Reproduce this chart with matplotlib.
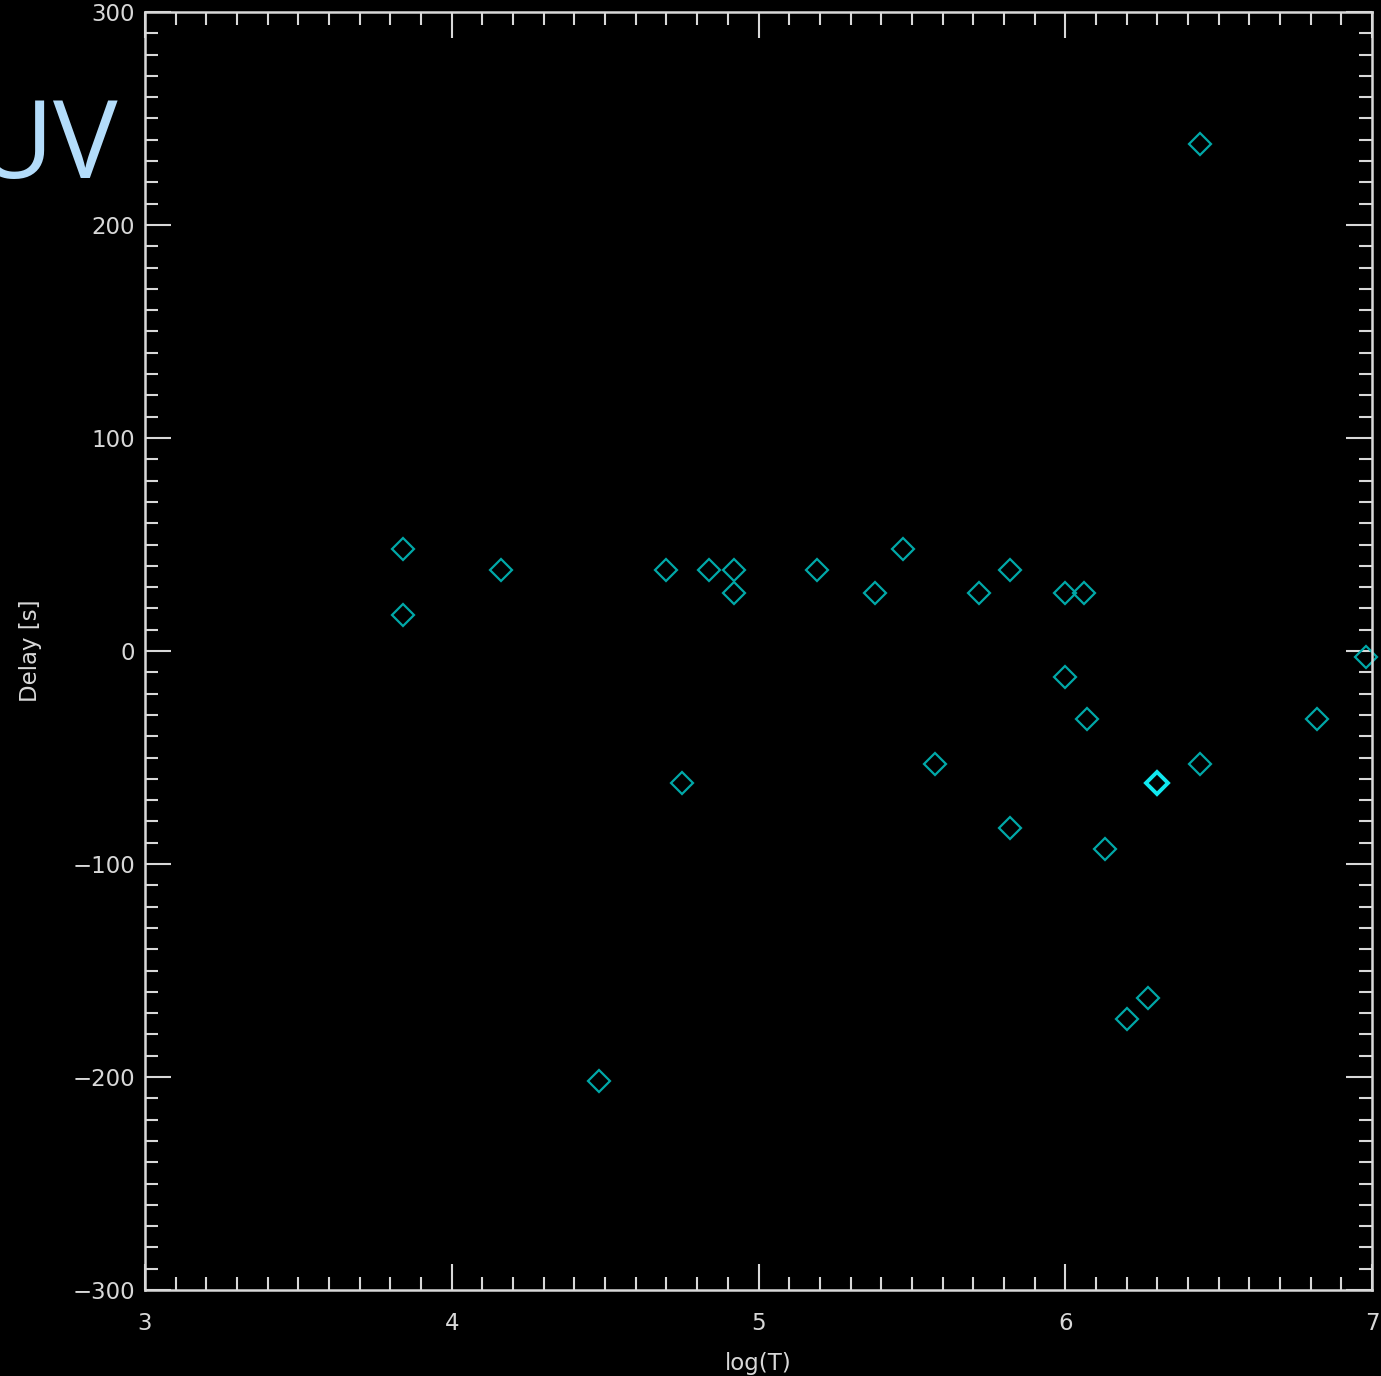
import matplotlib
matplotlib.use("Agg")
import matplotlib.pyplot as plt
from matplotlib.ticker import MultipleLocator

# values
log_t = [3.84, 3.84, 4.16, 4.48, 4.70, 4.75, 4.84, 4.92, 4.92, 5.19,
         5.38, 5.47, 5.575, 5.72, 5.82, 5.82, 6.00, 6.06, 6.00, 6.07,
         6.13, 6.44, 6.44, 6.20, 6.27, 6.82, 6.98]
delay = [48, 17, 38, -202, 38, -62, 38, 38, 27, 38,
         27, 48, -53, 27, 38, -83, 27, 27, -12, -32,
         -93, 238, -53, -173, -163, -32, -3]
# one highlighted point
hi_t = [6.30]
hi_delay = [-62]

x_ticks = [3, 4, 5, 6, 7]
y_ticks = [-300, -200, -100, 0, 100, 200, 300]

fg = '#d8d8d8'
plt.rcParams['font.family'] = 'DejaVu Sans'

fig = plt.figure(figsize=(13.81, 13.76), dpi=100, facecolor='black')
ax = fig.add_axes([145 / 1381, 1 - 1290 / 1376, (1372 - 145) / 1381, (1290 - 12) / 1376])
ax.set_facecolor('black')

ax.plot(log_t, delay, linestyle='none', marker='D', markersize=11.5,
        markerfacecolor='none', markeredgecolor='#00a8a8', markeredgewidth=1.6,
        clip_on=False)
ax.plot(hi_t, hi_delay, linestyle='none', marker='D', markersize=11.5,
        markerfacecolor='none', markeredgecolor='#10e8f0', markeredgewidth=2.8)

ax.set_xlim(3, 7)
ax.set_ylim(-300, 300)
ax.set_xticks(x_ticks)
ax.set_yticks(y_ticks)
ax.set_xticklabels([str(v) for v in x_ticks])
ax.set_yticklabels([str(v).replace('-', '\u2212') for v in y_ticks])
ax.xaxis.set_minor_locator(MultipleLocator(0.1))
ax.yaxis.set_minor_locator(MultipleLocator(10))

for s in ax.spines.values():
    s.set_color(fg)
    s.set_linewidth(1.8)

ax.tick_params(which='both', direction='in', colors=fg, top=True, right=True,
               width=1.5, labelsize=16.5)
ax.tick_params(which='major', length=19)
ax.tick_params(which='minor', length=9.5)
ax.tick_params(axis='x', which='major', pad=16)
ax.tick_params(axis='y', which='major', pad=7)

ax.set_xlabel('log(T)', color=fg, fontsize=16.5, labelpad=12)
ax.set_ylabel('Delay [s]', color=fg, fontsize=16.5, labelpad=22)

fig.text(118 / 1381, 1 - 150 / 1376, 'UV', color='#b3dcfa', fontsize=78,
         family='Open Sans', ha='right', va='center')

fig.savefig('out.png', dpi=100, facecolor='black')
